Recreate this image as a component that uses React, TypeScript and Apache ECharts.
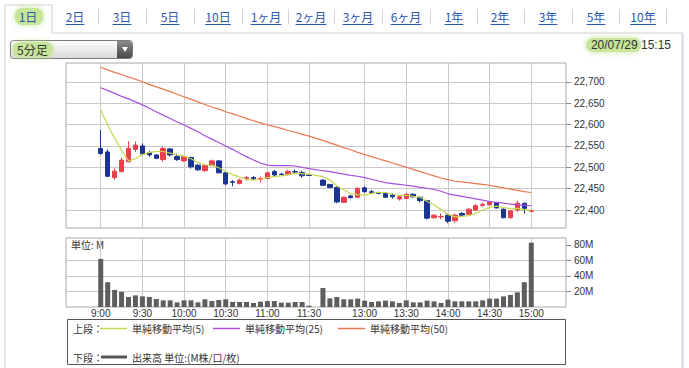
import React, { useEffect, useRef } from 'react';
import * as echarts from 'echarts';

// ---- time slots ----
const padBefore = ['8:35', '8:40', '8:45', '8:50', '8:55'];
const morningTimes = [
  '9:00','9:05','9:10','9:15','9:20','9:25','9:30','9:35','9:40','9:45','9:50','9:55',
  '10:00','10:05','10:10','10:15','10:20','10:25','10:30','10:35','10:40','10:45','10:50','10:55',
  '11:00','11:05','11:10','11:15','11:20','11:25','11:30',
];
const lunchGap = ['11:35'];
const afternoonTimes = [
  '12:30','12:35','12:40','12:45','12:50','12:55',
  '13:00','13:05','13:10','13:15','13:20','13:25','13:30','13:35','13:40','13:45','13:50','13:55',
  '14:00','14:05','14:10','14:15','14:20','14:25','14:30','14:35','14:40','14:45','14:50','14:55','15:00',
];
const padAfter = ['15:05', '15:10', '15:15', '15:20', '15:25'];
const tickLabels = ['9:00','9:30','10:00','10:30','11:00','11:30','13:00','13:30','14:00','14:30','15:00'];

// ---- price data (63 slots: 31 morning, lunch gap, 31 afternoon) ----
const opens = [
  22544,22536,22476,22490,22513,22542,22550,22534,22529,22518,22543,22525,22515,22523,22505,22492,
  22504,22515,22487,22466,22462,22473,22476,22472,22474,22490,22484,22483,22490,22488,22482,
  null,
  22470,22460,22453,22418,22433,22430,22452,22443,22441,22439,22435,22426,22427,22437,22430,22422,
  22382,22384,22388,22375,22392,22390,22400,22411,22412,22417,22402,22382,22400,22416,22397,
];
const closes = [
  22532,22479,22491,22517,22544,22552,22531,22529,22521,22544,22529,22518,22525,22501,22494,22504,
  22515,22487,22461,22465,22470,22476,22473,22474,22487,22482,22483,22490,22489,22480,22481,
  null,
  22458,22453,22419,22430,22429,22451,22443,22441,22439,22430,22431,22431,22437,22431,22422,22381,
  22388,22385,22374,22388,22388,22402,22410,22413,22419,22405,22382,22398,22416,22404,22399,
];
const lows = [
  22530,22477,22470,22488,22512,22536,22528,22525,22519,22513,22525,22515,22513,22497,22492,22490,
  22503,22486,22458,22456,22460,22469,22470,22464,22472,22479,22481,22481,22486,22476,22480,
  null,
  22456,22451,22416,22417,22427,22428,22440,22437,22437,22428,22427,22422,22425,22429,22418,22378,
  22380,22378,22369,22370,22384,22388,22398,22408,22411,22404,22381,22380,22396,22392,22396,
];
const highs = [
  22587,22542,22497,22523,22561,22560,22556,22539,22530,22548,22544,22532,22526,22525,22507,22506,
  22518,22517,22489,22470,22473,22480,22480,22478,22490,22494,22487,22494,22495,22492,22483,
  null,
  22472,22461,22455,22431,22435,22453,22455,22447,22443,22441,22439,22433,22439,22439,22431,22423,
  22390,22392,22392,22392,22395,22404,22414,22417,22421,22419,22404,22400,22422,22417,22400,
];
const ma5 = [
  22634,22599,22568,22540,22515,22520,22530,22535,22537,22537,22533,22529,22526,22520,22511,22506,
  22505,22499,22490,22483,22477,22472,22470,22472,22476,22478,22480,22483,22486,22485,22484,
  null,
  22478,22471,22457,22447,22438,22436,22435,22439,22441,22441,22437,22434,22434,22432,22430,22420,
  22412,22401,22390,22384,22385,22387,22392,22400,22406,22409,22406,22403,22404,22401,22400,
];
const ma25 = [
  22686,22680,22673,22666,22660,22653,22646,22638,22630,22622,22614,22606,22599,22591,22583,22574,
  22566,22558,22550,22542,22533,22525,22517,22510,22505,22504,22504,22504,22503,22500,22497,
  null,
  22492,22490,22487,22484,22481,22479,22476,22472,22468,22464,22462,22460,22458,22456,22453,22451,
  22448,22444,22438,22435,22432,22429,22426,22423,22420,22418,22416,22414,22412,22411,22410,
];
const ma50 = [
  22734,22728,22722,22717,22711,22706,22700,22694,22688,22683,22677,22671,22665,22659,22653,22647,
  22641,22636,22630,22625,22620,22614,22609,22604,22599,22595,22591,22586,22582,22577,22573,
  null,
  22563,22557,22552,22546,22541,22535,22530,22525,22520,22515,22510,22505,22500,22495,22490,22485,
  22480,22475,22471,22468,22466,22464,22462,22460,22458,22455,22452,22449,22446,22443,22441,
];
// volume in millions
const volumes = [
  62,32,22,19.5,13,15,13.7,13,10.3,8.6,8.6,6,8.6,8.6,6,9.9,
  7.7,9,9.9,6.5,6.5,6.5,5.2,6.9,7.7,7.7,5.6,5.6,6.5,6.5,1.7,
  null,
  24.5,11.2,12.9,9.9,9.9,10.8,8.2,6.5,7.3,8.2,7.3,5.2,8.6,6,6,8.2,
  7.3,5.2,9.5,7.3,7.3,7.3,7.3,8.6,10.8,10.8,13.7,15.5,18.9,32,83,
];
const priceTicks = [22400, 22450, 22500, 22550, 22600, 22650, 22700];
const volumeTicks = [20, 40, 60, 80];
const volumeGridLines = [20, 40, 60];

const tabLabels = ['1日','2日','3日','5日','10日','1ヶ月','2ヶ月','3ヶ月','6ヶ月','1年','2年','3年','5年','10年'];
const legendLabels = ['単純移動平均(5)', '単純移動平均(25)', '単純移動平均(50)'];

// ---- layout (not data) ----
const tabCenters = [28, 75, 122, 170, 218, 266, 311, 358, 406, 454, 500, 548, 596, 643];
const tabSeps = [98, 146, 194, 242, 288, 334, 382, 430, 477, 524, 572, 619, 666];

const RED = '#e8414c';
const BLUE = '#1a3591';
const C5 = '#c4d64c';
const C25 = '#a64fe0';
const C50 = '#ea764f';

const JP = '"Noto Sans CJK JP", sans-serif';
const NUM = '"Liberation Sans", Arial, sans-serif';

function textWidth(s: string, size: number) {
  let w = 0;
  for (const ch of s) {
    if (/[0-9]/.test(ch)) w += size * 0.57;
    else w += size;
  }
  return w;
}

export default function App() {
  const ref = useRef<HTMLDivElement>(null);
  useEffect(() => {
    if (!ref.current) return;
    const chart = echarts.init(ref.current, undefined, { renderer: 'svg' });

    const categories = [...padBefore, ...morningTimes, ...lunchGap, ...afternoonTimes, ...padAfter];
    const padN = (arr: any[]) => [
      ...padBefore.map(() => null),
      ...arr,
      ...padAfter.map(() => null),
    ];
    const candle = padN(opens.map((o, i) =>
      o == null ? ['-', '-', '-', '-'] : [o, closes[i], lows[i], highs[i]]));
    const candleData = candle.map((d) => (d == null ? ['-', '-', '-', '-'] : d));
    const isTick = (_i: number, v: string) => tickLabels.includes(v);

    const gridStyle = { show: true, borderColor: '#a9a9a9', borderWidth: 1, backgroundColor: '#fff' };
    const gl = { color: '#c9c9c9', width: 1, type: 'solid' as const };

    const graphic: any[] = [];
    // panel frame
    graphic.push({ type: 'polyline', silent: true, shape: { points: [[5, 368], [5, 5], [52, 5], [52, 33], [683, 33]] }, style: { stroke: '#cfcfcf', fill: 'none', lineWidth: 1 } });
    graphic.push({ type: 'rect', silent: true, shape: { x: 681, y: 33, width: 3, height: 335 }, style: { fill: '#dfe4ea' } });
    // glows
    const glow = (x: number, y: number, w: number, h: number) => ({
      type: 'rect', silent: true, shape: { x, y, width: w, height: h, r: 7 },
      style: { fill: 'rgba(196,228,150,0.9)', shadowBlur: 6, shadowColor: 'rgba(196,228,150,1)' },
    });
    graphic.push(glow(15, 8, 28, 17));
    // tabs
    tabLabels.forEach((t, i) => {
      const cx = tabCenters[i];
      graphic.push({ type: 'text', silent: true, x: cx, y: 16, style: { text: t, fill: '#2a57b0', fontSize: 12, fontFamily: JP, align: 'center', verticalAlign: 'middle' } });
      if (i > 0) {
        const w = textWidth(t, 12);
        graphic.push({ type: 'line', silent: true, shape: { x1: cx - w / 2, y1: 24.5, x2: cx + w / 2, y2: 24.5 }, style: { stroke: '#2a57b0', lineWidth: 1 } });
      }
    });
    tabSeps.forEach((x) => {
      graphic.push({ type: 'line', silent: true, shape: { x1: x + 0.5, y1: 9, x2: x + 0.5, y2: 24 }, style: { stroke: '#d5d5d5', lineWidth: 1 } });
    });
    // dropdown
    graphic.push({ type: 'rect', silent: true, shape: { x: 10.5, y: 40.5, width: 122, height: 18, r: 3 },
      style: { fill: new echarts.graphic.LinearGradient(0, 0, 0, 1, [{ offset: 0, color: '#ffffff' }, { offset: 1, color: '#d9d9d9' }]), stroke: '#7a7a7a', lineWidth: 1 } });
    graphic.push(glow(13, 42, 40, 15));
    graphic.push({ type: 'rect', silent: true, shape: { x: 117, y: 41, width: 15, height: 17, r: [0, 3, 3, 0] },
      style: { fill: new echarts.graphic.LinearGradient(0, 0, 0, 1, [{ offset: 0, color: '#8a8a8a' }, { offset: 1, color: '#4a4a4a' }]) } });
    graphic.push({ type: 'polygon', silent: true, shape: { points: [[122, 47], [128, 47], [125, 52]] }, style: { fill: '#fff' } });
    graphic.push({ type: 'text', silent: true, x: 17, y: 49.5, style: { text: '5分足', fill: '#333', fontSize: 12, fontFamily: JP, verticalAlign: 'middle' } });
    // date
    graphic.push(glow(586, 38, 55, 14));
    graphic.push({ type: 'text', silent: true, x: 671, y: 45, style: { text: '20/07/29 15:15', fill: '#333', fontSize: 12, fontFamily: NUM, align: 'right', verticalAlign: 'middle' } });
    // volume unit
    graphic.push({ type: 'text', silent: true, x: 71, y: 244, style: { text: '単位: M', fill: '#333', fontSize: 10, fontFamily: JP, verticalAlign: 'middle' } });
    // legend box
    graphic.push({ type: 'rect', silent: true, shape: { x: 67.5, y: 319.5, width: 498, height: 45 }, style: { fill: '#fff', stroke: '#555', lineWidth: 1 } });
    graphic.push({ type: 'text', silent: true, x: 73, y: 328.5, style: { text: '上段：', fill: '#333', fontSize: 10, fontFamily: JP, verticalAlign: 'middle' } });
    const legendLineX = [100, 213, 338];
    const legendColors = [C5, C25, C50];
    legendLabels.forEach((t, i) => {
      const x = legendLineX[i];
      graphic.push({ type: 'line', silent: true, shape: { x1: x, y1: 328.5, x2: x + 27, y2: 328.5 }, style: { stroke: legendColors[i], lineWidth: 1.5 } });
      graphic.push({ type: 'text', silent: true, x: x + 32, y: 328.5, style: { text: t, fill: '#333', fontSize: 10, fontFamily: JP, verticalAlign: 'middle' } });
    });
    graphic.push({ type: 'text', silent: true, x: 73, y: 357, style: { text: '下段：', fill: '#333', fontSize: 10, fontFamily: JP, verticalAlign: 'middle' } });
    graphic.push({ type: 'line', silent: true, shape: { x1: 101, y1: 357, x2: 127, y2: 357 }, style: { stroke: '#555', lineWidth: 3 } });
    graphic.push({ type: 'text', silent: true, x: 132, y: 357, style: { text: '出来高 単位:(M株/口/枚)', fill: '#333', fontSize: 10, fontFamily: JP, verticalAlign: 'middle' } });

    chart.setOption({
      animation: false,
      backgroundColor: '#fff',
      grid: [
        { left: 66, top: 63, width: 500, height: 165, ...gridStyle },
        { left: 66, top: 238, width: 500, height: 69, ...gridStyle },
      ],
      xAxis: [
        {
          type: 'category', gridIndex: 0, data: categories, boundaryGap: false,
          axisLine: { show: false }, axisTick: { show: false }, axisLabel: { show: false },
          splitLine: { show: true, interval: isTick, lineStyle: gl },
        },
        {
          type: 'category', gridIndex: 1, data: categories, boundaryGap: false,
          axisLine: { show: false }, axisTick: { show: false },
          axisLabel: { show: true, interval: isTick, fontSize: 10, color: '#333', fontFamily: NUM, margin: 1, lineHeight: 11 },
          splitLine: { show: true, interval: isTick, lineStyle: gl },
        },
      ],
      yAxis: [
        {
          type: 'value', gridIndex: 0, position: 'right', min: 22358, max: 22744,
          axisLine: { show: false },
          axisTick: { show: true, length: 5, lineStyle: { color: '#888' }, customValues: priceTicks },
          axisLabel: { customValues: priceTicks, fontSize: 10, color: '#333', fontFamily: NUM, margin: 8,
            formatter: (v: number) => v.toLocaleString('en-US') },
          splitLine: { show: false },
        },
        {
          type: 'value', gridIndex: 1, position: 'right', min: 0, max: 89,
          axisLine: { show: false },
          axisTick: { show: true, length: 5, lineStyle: { color: '#888' }, customValues: volumeTicks },
          axisLabel: { customValues: volumeTicks, fontSize: 10, color: '#333', fontFamily: NUM, margin: 8,
            formatter: (v: number) => `${v}M` },
          splitLine: { show: false },
        },
      ],
      series: [
        {
          type: 'candlestick', xAxisIndex: 0, yAxisIndex: 0, data: candleData, barWidth: 5,
          itemStyle: { color: RED, color0: BLUE, borderColor: RED, borderColor0: BLUE, borderWidth: 1 },
          markLine: {
            silent: true, symbol: ['none', 'none'], label: { show: false }, z: 1,
            lineStyle: gl, emphasis: { disabled: true },
            data: priceTicks.map((v) => ({ yAxis: v })),
          },
        },
        { type: 'line', xAxisIndex: 0, yAxisIndex: 0, data: padN(ma5), showSymbol: false, connectNulls: true, lineStyle: { color: C5, width: 1.2 }, itemStyle: { color: C5 } },
        { type: 'line', xAxisIndex: 0, yAxisIndex: 0, data: padN(ma25), showSymbol: false, connectNulls: true, lineStyle: { color: C25, width: 1.2 }, itemStyle: { color: C25 } },
        { type: 'line', xAxisIndex: 0, yAxisIndex: 0, data: padN(ma50), showSymbol: false, connectNulls: true, lineStyle: { color: C50, width: 1.2 }, itemStyle: { color: C50 } },
        {
          type: 'bar', xAxisIndex: 1, yAxisIndex: 1, data: padN(volumes), barWidth: 5,
          itemStyle: { color: '#5e5e5e' },
          markLine: {
            silent: true, symbol: ['none', 'none'], label: { show: false }, z: 1,
            lineStyle: gl, emphasis: { disabled: true },
            data: volumeGridLines.map((v) => ({ yAxis: v })),
          },
        },
      ],
      graphic,
    });
    return () => chart.dispose();
  }, []);

  return (
    <div
      ref={ref}
      style={{ position: 'absolute', left: 0, top: 0, width: 689, height: 368, background: '#fff' }}
    />
  );
}
